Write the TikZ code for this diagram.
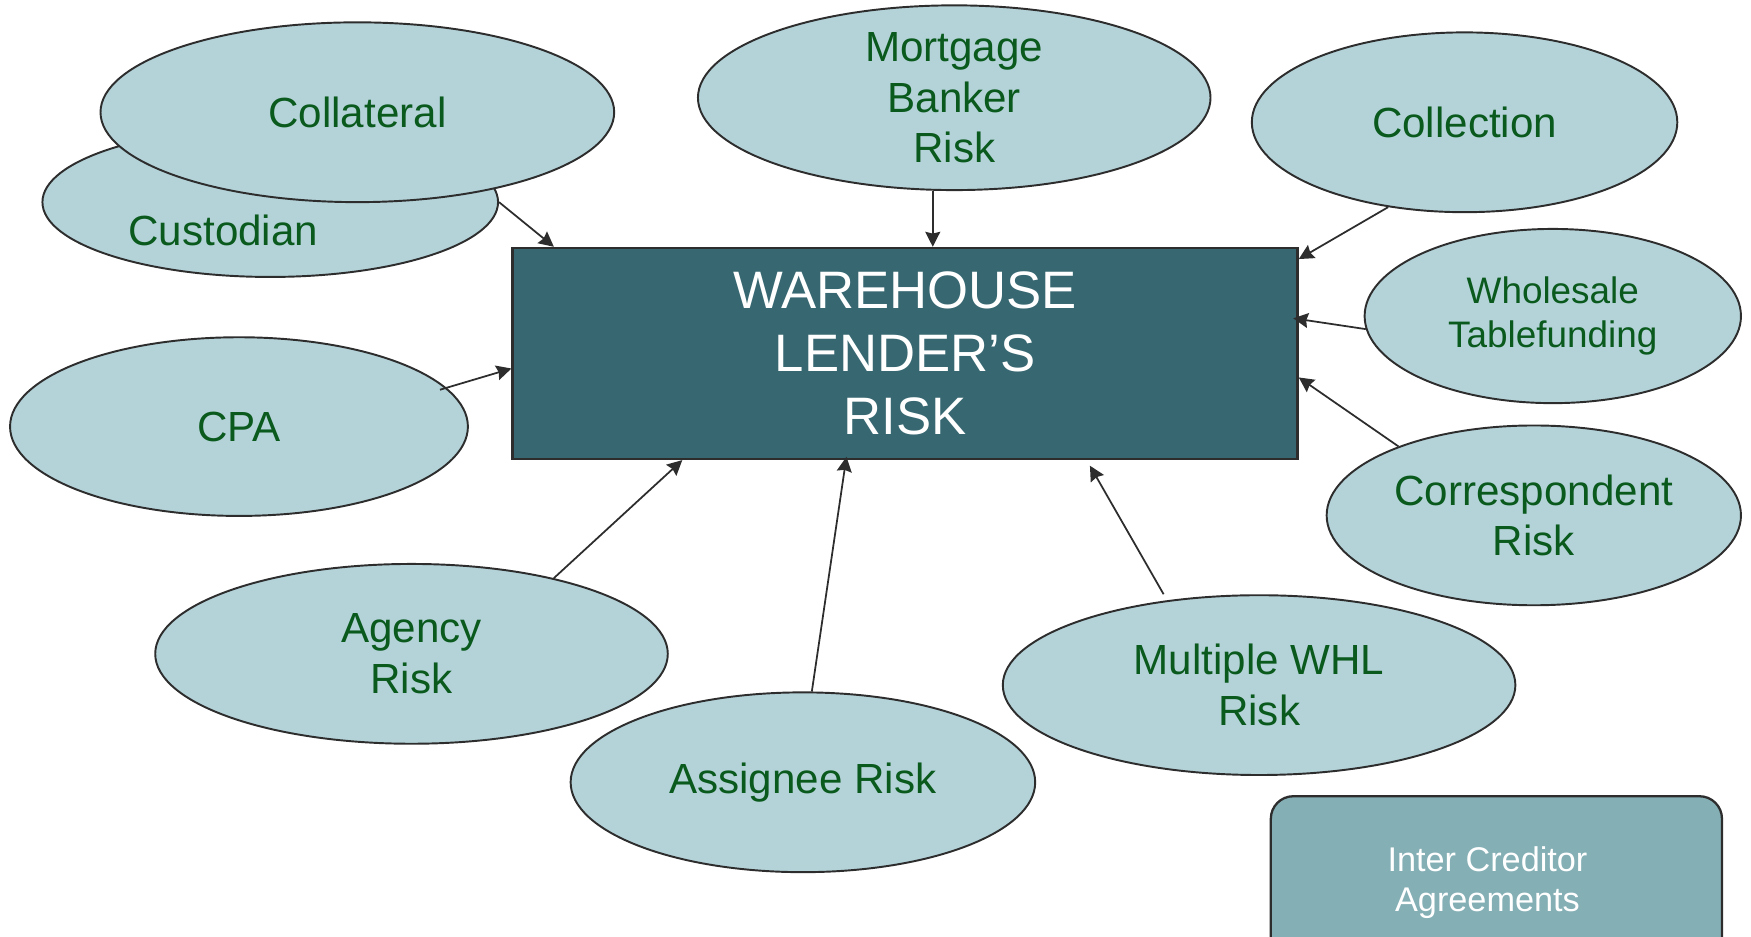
\documentclass[tikz,border=0pt]{standalone}
\usepackage{fontspec}
\setmainfont{Liberation Sans}
\usetikzlibrary{shapes.geometric,calc,arrows.meta}
\definecolor{bubble}{RGB}{180,211,217}
\definecolor{leaf}{RGB}{10,90,30}
\definecolor{core}{RGB}{55,103,113}
\definecolor{pact}{RGB}{132,175,181}
\definecolor{rim}{RGB}{45,45,45}
\newcommand{\px}{0.022334cm}
\tikzset{
  risk/.style={ellipse,draw=rim,line width=1.1pt,fill=bubble,inner sep=0pt,
    text=leaf,align=center,font=\fontsize{24}{28.8}\selectfont},
  risktext/.style={text=leaf,align=center,font=\fontsize{24}{28.8}\selectfont},
  feed/.style={draw=rim,line width=1pt,-{Stealth[length=8.5pt,width=8.5pt,inset=1pt]}}
}

\begin{document}
\begin{tikzpicture}[x=\px,y=-\px]
  \useasboundingbox (0,0) rectangle (1568,839);
  \node[risk,minimum width=408*\px,minimum height=134*\px] (cust) at (242,181) {};
  \node[risktext] (custtxt) at (200,206) {Custodian};
  \node[risk,minimum width=460*\px,minimum height=161*\px] (coll) at (320,100.5) {Collateral};
  \node[risk,minimum width=459*\px,minimum height=161*\px] (mbr) at (854.5,87.5) {Mortgage\\Banker\\Risk};
  \node[risk,minimum width=381*\px,minimum height=161*\px] (cln) at (1311.5,109.5) {Collection};
  \node[risk,minimum width=337*\px,minimum height=156*\px,font=\fontsize{21}{24.7}\selectfont] (ws) at (1390.5,283) {Wholesale\\Tablefunding};
  \node[risk,minimum width=410*\px,minimum height=160*\px] (cpa) at (214,382) {CPA};
  \node[risk,minimum width=371*\px,minimum height=161*\px] (corr) at (1373.5,461.5) {Correspondent\\Risk};
  \node[risk,minimum width=459*\px,minimum height=161*\px] (agy) at (368.5,585.5) {Agency\\Risk};
  \node[risk,minimum width=416*\px,minimum height=161*\px] (asg) at (719,700.5) {Assignee Risk};
  \node[risk,minimum width=459*\px,minimum height=161*\px] (mwr) at (1127.5,613.5) {Multiple WHL\\Risk};
  \node[draw=rim,line width=1.3pt,fill=core,text=white,minimum width=703*\px,minimum height=189*\px,
    align=center,font=\fontsize{30}{36}\selectfont] (wh) at (810.5,316.5) {WAREHOUSE\\LENDER’S\\RISK};
  \node[draw=rim,line width=1.3pt,fill=pact,rounded corners=0.45cm,minimum width=404*\px,
    minimum height=150*\px] (ica) at (1340,788) {};
  \node[text=white,align=center,font=\fontsize{19.5}{22.7}\selectfont] (icatxt) at (1332,790) {Inter Creditor\\Agreements};
  \draw[feed] (cust.east) -- ($(wh.north west)+(38,0)$);
  \draw[feed] (mbr.257) -- (mbr.257 |- wh.north);
  \draw[feed] (cln.228) -- ($(wh.north east)+(0,11)$);
  \draw[feed] (ws.184) -- ($(wh.east)+(-5,-31.5)$);
  \draw[feed] (corr.153) -- ($(wh.east)+(0,21.5)$);
  \draw[feed] ($(cpa.center)+(180,-33)$) -- ($(wh.west)+(0,13.5)$);
  \draw[feed] (agy.28) -- ($(wh.south west)+(153,0)$);
  \draw[feed] ($(asg.north)+(8,0)$) -- ($(wh.south)+(-52.5,-3)$);
  \draw[feed] ($(mwr.north)+(-85.5,0)$) -- ($(wh.south)+(165.5,5)$);
\end{tikzpicture}
\end{document}
